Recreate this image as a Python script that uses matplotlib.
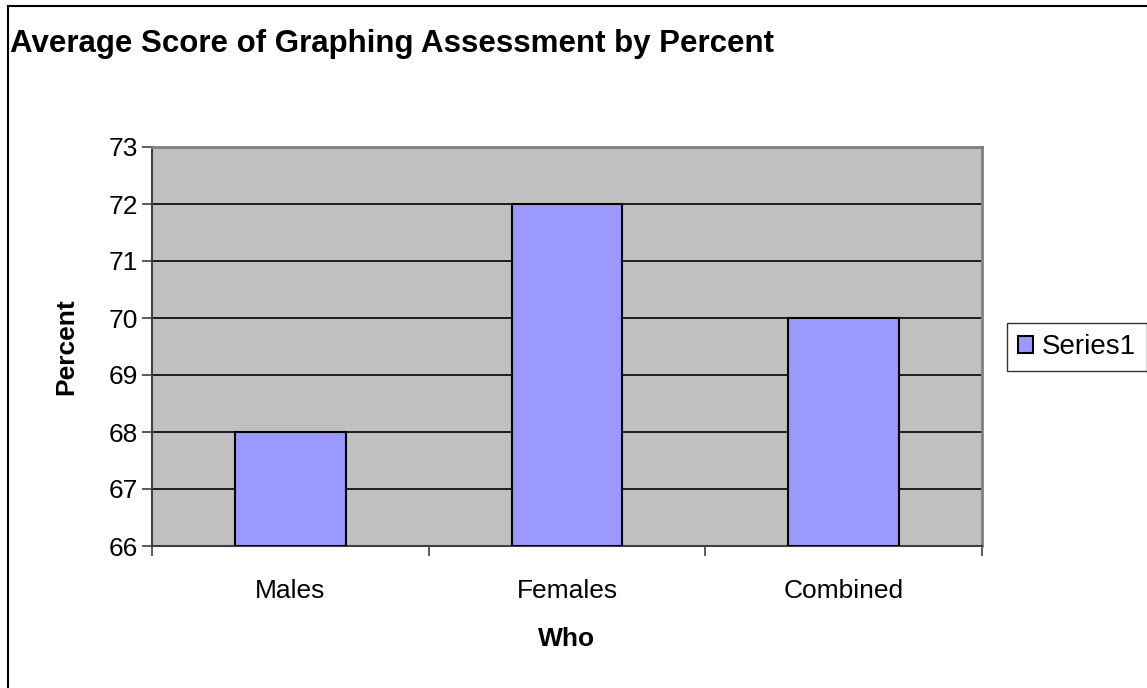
import numpy as np
import matplotlib.pyplot as plt
from matplotlib.patches import Rectangle

plt.rcParams['font.family'] = ['Liberation Sans', 'DejaVu Sans']

categories = ['Males', 'Females', 'Combined']
values = [68, 72, 70]
yticks = [66, 67, 68, 69, 70, 71, 72, 73]

fig = plt.figure(figsize=(11.47, 6.88), dpi=100)
fig.patch.set_facecolor('white')

# outer chart border (runs off the right and bottom edges)
fig.patches.append(Rectangle((8 / 1147, -0.05), 1.2, 1 - 6 / 688 + 0.05,
                             transform=fig.transFigure, fill=False,
                             edgecolor='black', linewidth=1.5, clip_on=False))

ax = fig.add_axes([152 / 1147, 1 - 546 / 688, 830 / 1147, 399 / 688])
ax.set_facecolor('#C0C0C0')

x = np.arange(len(categories))
ax.bar(x, np.array(values) - 66, bottom=66, width=0.4, color='#9999FF',
       edgecolor='black', linewidth=1.5, label='Series1', zorder=3)

ax.set_xlim(-0.5, 2.5)
ax.set_ylim(66, 73)
ax.set_yticks(yticks)
ax.yaxis.grid(True, color='black', linewidth=1.2, zorder=1)
ax.set_axisbelow(True)

ax.set_xticks(x)
ax.set_xticklabels(categories)
ax.set_xticks([-0.5, 0.5, 1.5, 2.5], minor=True)
ax.tick_params(axis='x', which='major', length=0, pad=24, labelsize=19)
ax.tick_params(axis='x', which='minor', length=7, width=1.2, color='#404040')
ax.tick_params(axis='y', length=7, width=1.2, color='#404040', labelsize=19, pad=3)

for s in ['top', 'right']:
    ax.spines[s].set_color('#808080')
    ax.spines[s].set_linewidth(2)
for s in ['left', 'bottom']:
    ax.spines[s].set_color('#404040')
    ax.spines[s].set_linewidth(1.5)

ax.set_xlabel('Who', fontsize=19, fontweight='bold', labelpad=17)
ax.set_ylabel('Percent', fontsize=19, fontweight='bold', labelpad=22)

fig.text(10 / 1147, 1 - 44 / 688, 'Average Score of Graphing Assessment by Percent',
         fontsize=22.5, fontweight='bold', va='center', ha='left')

leg = ax.legend(loc='center left', bbox_to_anchor=(1007 / 1147, 1 - 347 / 688),
                bbox_transform=fig.transFigure, fontsize=20, frameon=True,
                fancybox=False, edgecolor='black', handlelength=0.55,
                handleheight=0.55, handletextpad=0.3, borderpad=0.4,
                borderaxespad=0)
leg.get_frame().set_linewidth(1)

fig.savefig('out.png', dpi=100)
